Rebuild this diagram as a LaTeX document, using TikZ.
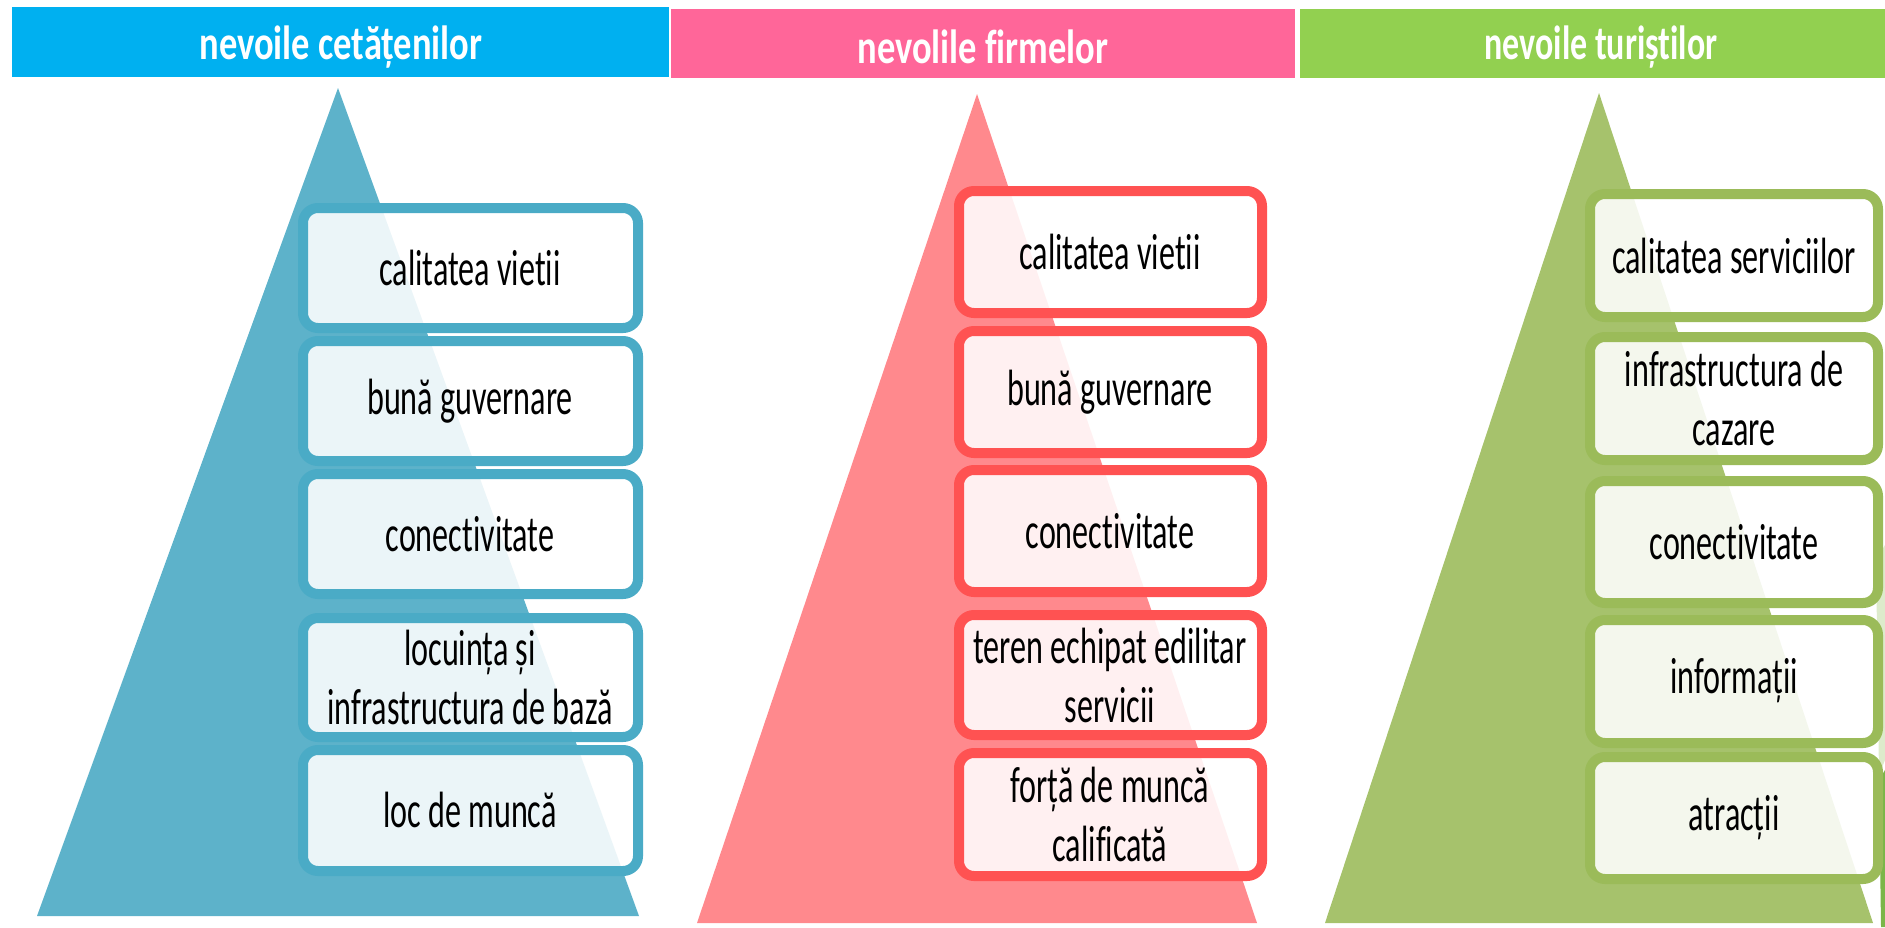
\documentclass[tikz,border=0pt]{standalone}
\usepackage{fontspec}
\setmainfont{Carlito}
\newfontfamily\boxfont{Carlito}[FakeStretch=0.63,Ligatures={NoCommon,NoRare,NoContextual}]
\newfontfamily\hdrfont{Carlito}[FakeStretch=0.76,Ligatures={NoCommon,NoRare,NoContextual}]
\newcommand\lgb{\kern0pt}
\definecolor{hblue}{HTML}{00B0F0}
\definecolor{hpink}{HTML}{FF6699}
\definecolor{hgreen}{HTML}{92D050}
\definecolor{tblue}{HTML}{5DB2CA}
\definecolor{tpink}{HTML}{FF898D}
\definecolor{tgreen}{HTML}{A6C26C}
\definecolor{bblue}{HTML}{4AABC6}
\definecolor{bpink}{HTML}{FF5252}
\definecolor{bgreen}{HTML}{9BBB59}
\definecolor{facetlight}{HTML}{DDEBCB}
\definecolor{facetdark}{HTML}{7AB648}
\tikzset{
  hdrtext/.style={text=white, inner sep=0pt, font=\hdrfont\bfseries\fontsize{48}{54}\selectfont},
  itembox/.style={line width=10pt, rounded corners=15pt, fill=white, fill opacity=0.88, draw opacity=1},
  itemtext/.style={text=black, inner sep=0pt, align=center, font=\boxfont\fontsize{51}{59}\selectfont}
}
\begin{document}
\begin{tikzpicture}[x=1pt,y=-1pt]
\useasboundingbox (0,0) rectangle (1885,927);
% headers
\fill[hblue] (12,7) rectangle (669,77);
\fill[hpink] (671,9) rectangle (1295,78);
\fill[hgreen] (1300,9) rectangle (1885,78);
\node[hdrtext] (h1) at (341,47) {nevoile cetățenilor};
\node[hdrtext] (h2) at (983,47) {nevolile f\lgb irmelor};
\node[hdrtext] (h3) at (1601,47) {\scalebox{0.93}[1]{nevoile turiștilor}};
% facet decoration
\fill[facetlight] (1876,560) -- (1885,545) -- (1885,760) -- (1879,775) -- cycle;
\fill[facetdark] (1879,780) -- (1885,770) -- (1885,927) -- (1881,927) -- cycle;
% triangles
\fill[tblue] (338,88) -- (639,916) -- (37,916) -- cycle;
\fill[tpink] (977,94) -- (1257,923) -- (697,923) -- cycle;
\fill[tgreen] (1599,93) -- (1873,923) -- (1325,923) -- cycle;
% blue column boxes
\foreach \t/\b in {203/333,336/466,469/599,613/742,745/876}
  \draw[itembox, draw=bblue] (303,\t+5) rectangle (638,\b-5);
\node[itemtext] (c1) at (470,268) {calitatea viet\lgb ii};
\node[itemtext] (c2) at (470,401) {bună guvernare};
\node[itemtext] (c3) at (470,534) {conect\lgb ivitate};
\node[itemtext] (c4) at (470,677) {locuința și\\infrastructura de bază};
\node[itemtext] (c5) at (470,810) {loc de muncă};
% pink column boxes
\foreach \t/\b in {186/318,326/458,465/597,610/740,748/881}
  \draw[itembox, draw=bpink] (959,\t+5) rectangle (1262,\b-5);
\node[itemtext] (f1) at (1110,252) {calitatea viet\lgb ii};
\node[itemtext] (f2) at (1110,392) {bună guvernare};
\node[itemtext] (f3) at (1110,531) {conect\lgb ivitate};
\node[itemtext] (f4) at (1110,675) {teren echipat edilitar\\servicii};
\node[itemtext] (f5) at (1110,814) {forță de muncă\\calif\lgb icată};
% green column boxes
\foreach \t/\b in {189/322,332/465,476/608,615/748,752/884}
  \draw[itembox, draw=bgreen] (1590,\t+5) rectangle (1878,\b-5);
\node[itemtext] (t1) at (1734,256) {calitatea serviciilor};
\node[itemtext] (t2) at (1734,398) {infrastructura de\\cazare};
\node[itemtext] (t3) at (1734,542) {conect\lgb ivitate};
\node[itemtext] (t4) at (1734,681) {informații};
\node[itemtext] (t5) at (1734,818) {atracții};
\end{tikzpicture}
\end{document}
